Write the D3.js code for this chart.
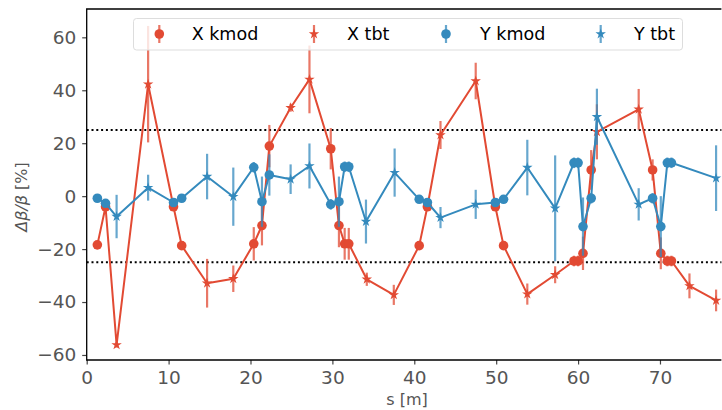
<!DOCTYPE html>
<html>
<head>
<meta charset="utf-8">
<script src="https://cdn.jsdelivr.net/npm/d3@7/dist/d3.min.js"></script>
<style>
body { margin: 0; background: #fff; }
svg { display: block; font-family: "DejaVu Sans", sans-serif; }
</style>
</head>
<body>
<svg id="viz" width="722" height="410"></svg>
<script>
// kmod positions (both planes measured at the same quads)
var kmodS   = [1.3, 2.3, 10.6, 11.6, 20.4, 21.4, 22.3, 29.8, 30.8, 31.5, 32.0, 40.6, 41.6, 49.9, 50.9, 59.5, 60.0, 60.6, 61.6, 69.1, 70.1, 70.9, 71.4];
var xKmod    = [-18.4, -4, -4, -18.7, -18, -11.1, 18.9, 17.9, -11.1, -18, -18, -18.7, -4, -4, -18.7, -24.5, -24.5, -21.6, 9.9, 9.9, -21.6, -24.5, -24.5];
var xKmodErr = [1.5, 1, 1, 1.5, 6.3, 7.5, 8, 7.8, 8.2, 6, 6, 1.5, 1, 1, 1.5, 2, 2, 6.3, 7.5, 4, 6, 2, 2];
var yKmod    = [-0.8, -2.7, -2.4, -0.8, 10.9, -2.1, 8, -3.1, -2.1, 11.1, 11.1, -1.2, -2.4, -2.4, -1.2, 12.6, 12.6, -11.5, -0.8, -0.8, -11.5, 12.6, 12.6];
var yKmodErr = [1, 1, 1, 1, 2, 9.5, 7.8, 2, 9.5, 2, 2, 1, 1, 1, 1, 2, 2, 11, 2, 2, 11.5, 2, 2];

// turn-by-turn BPM data
var tbtXS   = [3.65, 7.5, 14.7, 17.9, 24.9, 27.2, 34.2, 37.5, 43.2, 47.5, 53.8, 57.2, 62.3, 67.4, 73.6, 76.85];
var xTbt    = [-56.2, 42.3, -32.9, -31.2, 33.4, 44.1, -31.4, -37.3, 23.1, 43.5, -37, -29.7, 24.3, 32.8, -33.9, -39.4];
var xTbtErr = [1, 22, 9.2, 5, 1.5, 12.8, 2.5, 3.8, 5.3, 6.9, 4, 3.2, 10.4, 7.7, 4.7, 4.1];
var tbtYS   = [3.65, 7.5, 14.7, 17.9, 24.9, 27.2, 34.1, 37.6, 43.2, 47.5, 53.8, 57.2, 62.3, 67.4, 76.85];
var yTbt    = [-7.7, 3.2, 7.4, -0.2, 6.4, 11.4, -9.6, 8.9, -8.1, -3.1, 10.8, -4.6, 30, -3.1, 6.8];
var yTbtErr = [8.2, 4.9, 8.6, 11, 5.6, 8.5, 8.3, 9.1, 4, 5.5, 10.5, 20, 10.6, 6.1, 12.4];

var xTicks = [0, 10, 20, 30, 40, 50, 60, 70];
var yTicks = [-60, -40, -20, 0, 20, 40, 60];
var limits = [-25, 25];
var legendLabels = ["X kmod", "X tbt", "Y kmod", "Y tbt"];

var red = "#E24A33";
var blue = "#348ABD";

var plot = {left: 86.7, right: 721.4, top: 9, bottom: 360};

function zip(s, v, e, kind){
  return s.map(function(d, i){ return {s: d, v: v[i], e: e[i], kind: kind}; });
}

function main(){
  var svg = d3.select("#viz");

  var xScale = d3.scaleLinear().domain([0, 77.5]).range([plot.left, plot.right]);
  var yScale = d3.scaleLinear().domain([-61.9, 70.7]).range([plot.bottom, plot.top]);

  // axes
  var xAxis = svg.append("g")
    .attr("transform", "translate(0," + plot.bottom + ")")
    .call(d3.axisBottom(xScale).tickValues(xTicks).tickSize(4.5).tickPadding(6));
  var yAxis = svg.append("g")
    .attr("transform", "translate(" + plot.left + ",0)")
    .call(d3.axisLeft(yScale).tickValues(yTicks).tickSize(4.5).tickPadding(6)
      .tickFormat(function(d){ return d < 0 ? "\u2212" + Math.abs(d) : d; }));
  [xAxis, yAxis].forEach(function(a){
    a.select(".domain").remove();
    a.selectAll(".tick line").attr("stroke", "#444").attr("stroke-width", 1.2);
    a.selectAll(".tick text").attr("fill", "#555").style("font-size", "18.5px")
      .style("font-family", "DejaVu Sans");
  });

  // spines
  svg.append("path")
    .attr("d", "M" + plot.right + "," + plot.top + "H" + plot.left + "V" + plot.bottom + "H" + plot.right)
    .attr("fill", "none").attr("stroke", "#000").attr("stroke-width", 1.3);

  // +-25% limits
  svg.selectAll(".limit").data(limits).enter().append("line")
    .attr("class", "limit")
    .attr("x1", plot.left).attr("x2", plot.right)
    .attr("y1", function(d){ return yScale(d); }).attr("y2", function(d){ return yScale(d); })
    .attr("stroke", "#000").attr("stroke-width", 2).attr("stroke-dasharray", "2,2.8");

  var line = d3.line()
    .x(function(d){ return xScale(d.s); })
    .y(function(d){ return yScale(d.v); });

  var star = d3.symbol().type(d3.symbolStar).size(34);

  function drawPlane(kmodVals, kmodErr, tbtS, tbtVals, tbtErr, color){
    var km = zip(kmodS, kmodVals, kmodErr, "kmod");
    var tb = zip(tbtS, tbtVals, tbtErr, "tbt");
    var all = km.concat(tb).sort(function(a, b){ return a.s - b.s; });
    var g = svg.append("g");

    g.append("path")
      .datum(all)
      .attr("d", line)
      .attr("fill", "none")
      .attr("stroke", color)
      .attr("stroke-width", 2)
      .attr("stroke-linejoin", "round");

    g.selectAll(".err").data(all).enter().append("line")
      .attr("class", "err")
      .attr("x1", function(d){ return xScale(d.s); })
      .attr("x2", function(d){ return xScale(d.s); })
      .attr("y1", function(d){ return yScale(d.v - d.e); })
      .attr("y2", function(d){ return yScale(d.v + d.e); })
      .attr("stroke", color)
      .attr("stroke-opacity", 0.75)
      .attr("stroke-width", 2.2);

    g.selectAll(".km").data(km).enter().append("circle")
      .attr("class", "km")
      .attr("cx", function(d){ return xScale(d.s); })
      .attr("cy", function(d){ return yScale(d.v); })
      .attr("r", 4.8)
      .attr("fill", color);

    g.selectAll(".tb").data(tb).enter().append("path")
      .attr("class", "tb")
      .attr("d", star)
      .attr("transform", function(d){ return "translate(" + xScale(d.s) + "," + yScale(d.v) + ")"; })
      .attr("fill", color);
  }

  drawPlane(xKmod, xKmodErr, tbtXS, xTbt, xTbtErr, red);
  drawPlane(yKmod, yKmodErr, tbtYS, yTbt, yTbtErr, blue);

  // legend
  var lg = svg.append("g");
  lg.append("rect")
    .attr("x", 133.5).attr("y", 18.5).attr("width", 549).attr("height", 31.5)
    .attr("rx", 3)
    .attr("fill", "#fff").attr("fill-opacity", 0.8)
    .attr("stroke", "#ddd").attr("stroke-width", 1);

  var handleX = [159.3, 314, 446, 600.7];
  var textX = [191.7, 347, 480, 634];
  var colors = [red, red, blue, blue];
  legendLabels.forEach(function(label, i){
    lg.append("line")
      .attr("x1", handleX[i]).attr("x2", handleX[i])
      .attr("y1", 25).attr("y2", 43)
      .attr("stroke", colors[i]).attr("stroke-opacity", 0.75).attr("stroke-width", 2.2);
    if(i % 2 === 0){
      lg.append("circle").attr("cx", handleX[i]).attr("cy", 34).attr("r", 4.8).attr("fill", colors[i]);
    }else{
      lg.append("path").attr("d", star)
        .attr("transform", "translate(" + handleX[i] + ",34)").attr("fill", colors[i]);
    }
    lg.append("text")
      .attr("x", textX[i]).attr("y", 40.2)
      .style("font-size", "17.5px")
      .attr("fill", "#000")
      .text(label);
  });

  // axis labels
  svg.append("text")
    .attr("x", (plot.left + plot.right) / 2 + 3).attr("y", 405)
    .attr("text-anchor", "middle")
    .attr("fill", "#555")
    .style("font-size", "16px")
    .text("s [m]");

  var yl = svg.append("text")
    .attr("transform", "translate(27,197) rotate(-90)")
    .attr("text-anchor", "middle")
    .attr("fill", "#555")
    .style("font-size", "16px");
  yl.append("tspan").style("font-style", "italic").text("\u0394\u03b2/\u03b2");
  yl.append("tspan").text(" [%]");
}

main();
</script>
</body>
</html>
